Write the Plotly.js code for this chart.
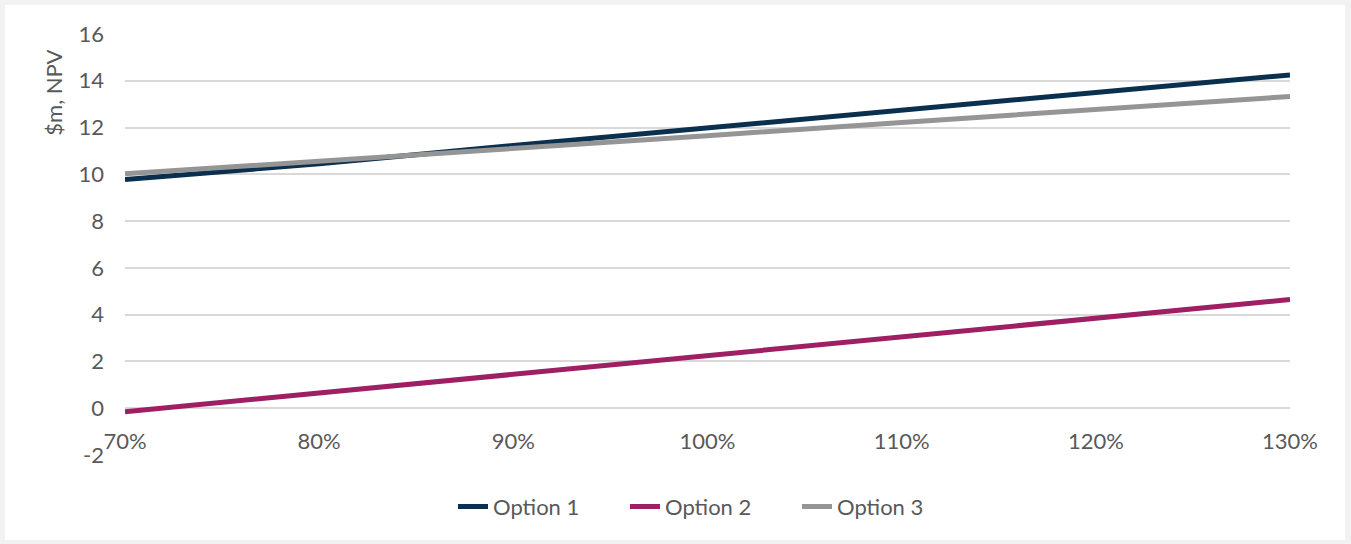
<!DOCTYPE html>
<html>
<head>
<meta charset="utf-8">
<script src="https://cdn.plot.ly/plotly-3.0.1.min.js"></script>
<style>
  html, body { margin: 0; padding: 0; background: #f2f2f2; }
  #chart { position: absolute; left: 5px; top: 5px; width: 1340px; height: 535px; background: #ffffff; }
</style>
</head>
<body>
<div id="chart"></div>
<script>
// Volume sensitivity (share of base case)
const categories = ['70%', '80%', '90%', '100%', '110%', '120%', '130%'];

// NPV in $m for each option
const option1 = [9.78, 10.45, 11.23, 11.97, 12.72, 13.5, 14.25];
const option2 = [-0.15, 0.65, 1.45, 2.25, 3.05, 3.85, 4.65];
const option3 = [10.02, 10.55, 11.09, 11.65, 12.22, 12.77, 13.33];

const yTicks = [-2, 0, 2, 4, 6, 8, 10, 12, 14, 16];
const yTickLabels = ['-2', '0', '2', '4', '6', '8', '10', '12', '14', '16'];

const textColor = '#595959';
const fontFamily = 'Lato, "Open Sans", sans-serif';

function series(name, values, color) {
  return {
    type: 'scatter',
    mode: 'lines',
    name: name,
    x: categories,
    y: values,
    line: { color: color, width: 5 },
    hoverinfo: 'skip'
  };
}

const traces = [
  series('Option 1', option1, '#0a2f4f'),
  series('Option 2', option2, '#9e1f63'),
  series('Option 3', option3, '#959595')
];

const layout = {
  width: 1340,
  height: 535,
  margin: { l: 120, r: 55, t: 29, b: 83 },
  paper_bgcolor: '#ffffff',
  plot_bgcolor: '#ffffff',
  font: { family: fontFamily, size: 22, color: textColor },
  showlegend: true,
  legend: {
    orientation: 'h',
    x: 0.503,
    xanchor: 'center',
    y: -0.123,
    yanchor: 'middle',
    entrywidth: 127,
    font: { family: fontFamily, size: 22, color: textColor },
    traceorder: 'normal'
  },
  xaxis: {
    type: 'category',
    range: [0, categories.length - 1],
    showgrid: false,
    zeroline: false,
    showline: false,
    anchor: 'free',
    position: 2 / 18,
    ticks: 'outside',
    ticklen: 13,
    tickcolor: 'rgba(0,0,0,0)',
    tickfont: { family: fontFamily, size: 22, color: textColor },
    fixedrange: true
  },
  yaxis: {
    range: [-2, 16],
    tickvals: yTicks,
    ticktext: yTickLabels,
    showgrid: true,
    gridcolor: '#d9d9d9',
    gridwidth: 2,
    zeroline: false,
    showline: false,
    ticks: '',
    ticklabelstandoff: 20,
    tickfont: { family: fontFamily, size: 22, color: textColor },
    fixedrange: true
  },
  annotations: [{
    text: '$m, NPV',
    textangle: -90,
    xref: 'paper',
    yref: 'paper',
    x: (54 - 125) / 1165,
    y: (457 - 93) / 423,
    xanchor: 'center',
    yanchor: 'middle',
    showarrow: false,
    font: { family: fontFamily, size: 22, color: textColor }
  }]
};

Plotly.newPlot('chart', traces, layout, { displayModeBar: false, staticPlot: true });
</script>
</body>
</html>
